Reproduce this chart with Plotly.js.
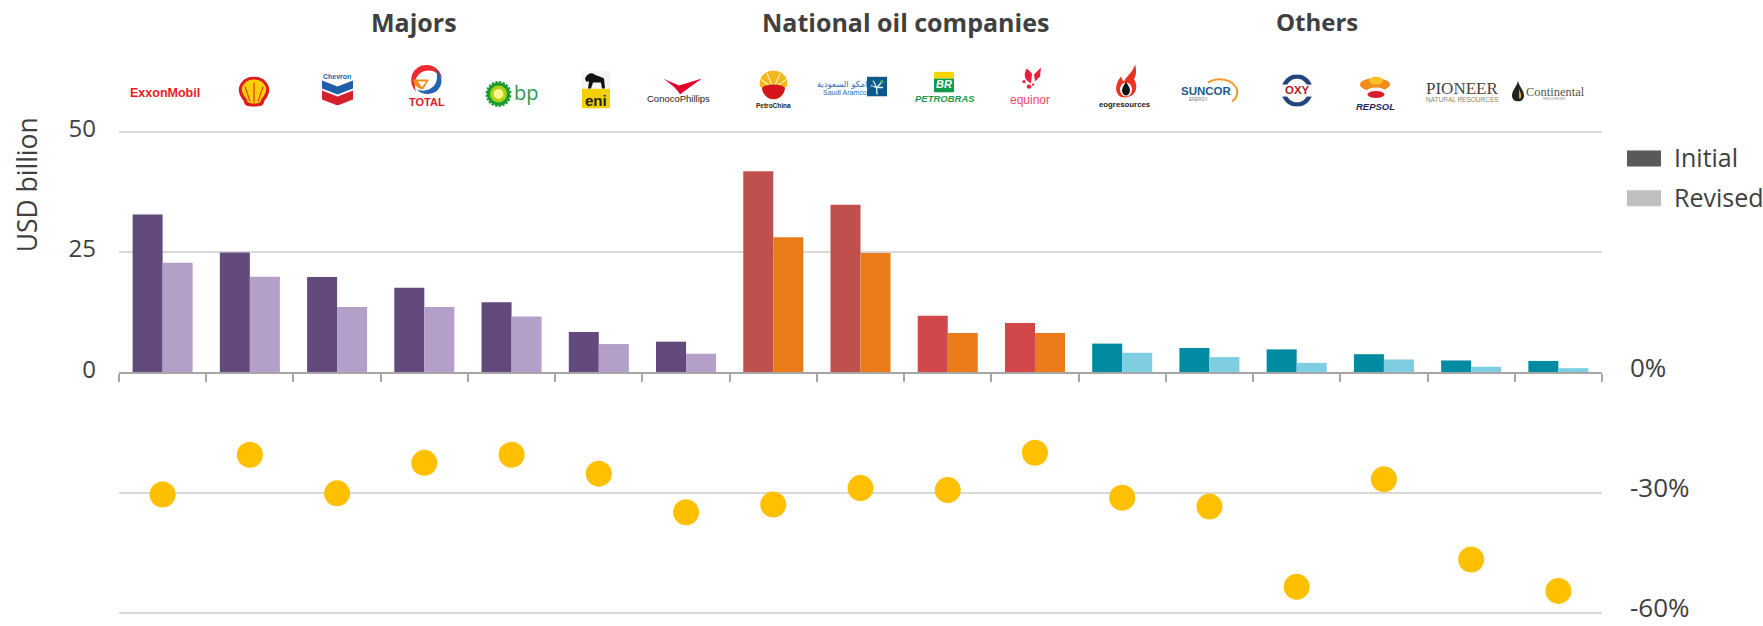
<!DOCTYPE html>
<html><head><meta charset="utf-8">
<script src="https://cdn.plot.ly/plotly-3.0.1.min.js"></script>
<style>html,body{margin:0;padding:0;background:#fff}#c{width:1763px;height:626px}</style>
</head><body><div id="c"></div>
<script>
const companies=['ExxonMobil','Shell','Chevron','Total','BP','Eni','ConocoPhillips','PetroChina','Saudi Aramco','Petrobras','Equinor','EOG Resources','Suncor','Oxy','Repsol','Pioneer','Continental'];
const initial=[32.8,24.9,19.8,17.6,14.6,8.4,6.4,41.8,34.8,11.8,10.3,6.0,5.1,4.8,3.8,2.5,2.4];
const revised=[22.8,19.9,13.6,13.6,11.6,5.9,3.9,28.1,24.8,8.2,8.2,4.1,3.2,2.0,2.7,1.2,0.9];
const change=[-30.4,-20.5,-30.1,-22.5,-20.5,-25.2,-34.8,-32.9,-28.8,-29.3,-20,-31.2,-33.4,-53.4,-26.6,-46.6,-54.4];
const initialColors=['#634a7c','#634a7c','#634a7c','#634a7c','#634a7c','#634a7c','#634a7c','#c0504d','#c0504d','#d2474a','#d2474a','#008ba3','#008ba3','#008ba3','#008ba3','#008ba3','#008ba3'];
const revisedColors=['#b49fc9','#b49fc9','#b49fc9','#b49fc9','#b49fc9','#b49fc9','#b49fc9','#ea7b1a','#ea7b1a','#ea7b1a','#ea7b1a','#7fcde1','#7fcde1','#7fcde1','#7fcde1','#7fcde1','#7fcde1'];
const groupTitles=['Majors','National oil companies','Others'];
const legendNames=['Initial','Revised'];
const legendColors=['#595959','#bfbfbf'];

const L=119,T=121.5,W=1483,H=502;
const px=x=>(x-L)/W, py=y=>(T+H-y)/H;
const FONT='"Open Sans", sans-serif', INK='#404040';

function img(x,y,w,h,inner){
  const svg=`<svg xmlns="http://www.w3.org/2000/svg" width="${w*4}" height="${h*4}" viewBox="0 0 ${w} ${h}">${inner}</svg>`;
  return {source:'data:image/svg+xml;charset=utf-8,'+encodeURIComponent(svg),xref:'paper',yref:'paper',x:px(x),y:py(y),sizex:w/W,sizey:h/H,sizing:'stretch',xanchor:'left',yanchor:'top',layer:'above'};
}
const images=[
 img(238,76,32,31,'<path d="M16 30C9 30 6 29 6 25C2 20 0 15 1 11C3 4 9 0 16 0C23 0 29 4 31 11C32 15 30 20 26 25C26 29 23 30 16 30Z" fill="#dd1d21"/><path d="M16 27C11 27 9 26 9 23C5 18 3 14 4 11C6 6 10 3 16 3C22 3 26 6 28 11C29 14 27 18 23 23C23 26 21 27 16 27Z" fill="#fbce07"/><path d="M16 26V6M12 25L7 10M20 25L25 10" stroke="#dd1d21" stroke-width="1"/>'),
 img(322,70,31,35,'<path d="M0 10L15.5 16L31 10V18L15.5 24L0 18Z" fill="#1f5fa8"/><path d="M0 20L15.5 26L31 20V29L15.5 35L0 29Z" fill="#d5202e"/>'),
 img(408,63,38,33,'<path d="M8 28C0 20 2 6 14 2C24 -1 33 6 34 15C30 8 22 5 15 8C8 11 5 20 8 28Z" fill="#ee2a2e"/><path d="M27 5C35 12 36 22 28 28C22 32 13 31 9 26C16 29 25 26 28 19C30 14 29 9 27 5Z" fill="#2463b0"/><path d="M5 16H21L15 26C9 25 6 21 5 16Z" fill="#f28c1c"/><path d="M10 18H18L14 24Z" fill="#fff"/>'),
 img(485,80,27,27,'<circle cx="13.5" cy="13.5" r="13" fill="#1c9a32"/><circle cx="13.5" cy="13.5" r="13" fill="none" stroke="#fff" stroke-width="3" stroke-dasharray="1.5 2.5"/><circle cx="13.5" cy="13.5" r="8.5" fill="#a9d40f"/><circle cx="13.5" cy="13.5" r="5" fill="#fdf48c"/>'),
 img(582,70,28,38,'<rect y="18" width="28" height="20" fill="#f5d000"/><rect width="28" height="18" fill="#f4f4f4"/><path d="M3 8C5 3 9 2 11 3C13 5 19 6 22 8L23 18H20L19 12L11 12L9 18H6L7 11L4 11Z" fill="#111"/>'),
 img(660,78,44,16,'<path d="M3 0L19 7L42 0C35 5 25 12 20 16C17 10 10 5 3 0Z" fill="#e4002b"/>'),
 img(759,70,29,29,'<path d="M1 16C-1 6 7 0 14.5 0C22 0 30 6 28 16L14.5 20Z" fill="#f5b51c"/><path d="M14.5 18L8 3M14.5 18L21 3M14.5 18L2 9M14.5 18L27 9" stroke="#fff3a8" stroke-width="1.2"/><path d="M3 17C8 13 21 13 26 17C26 24 20 29 14.5 29C9 29 3 24 3 17Z" fill="#d4161c"/>'),
 img(867,76,20,20,'<rect width="20" height="20" fill="#0a5a8c"/><path d="M10 18C10 12 9 8 6 4M10 11L15 5M10 11L4 9M10 11L16 11" stroke="#dff2ee" stroke-width="1.4"/><circle cx="15" cy="5" r="1.6" fill="#48b65c"/>'),
 img(931,71,26,21,'<rect x="3" y="0" width="20" height="7" fill="#f9d500"/><rect x="3" y="7" width="20" height="14" fill="#119a4a"/>'),
 img(1018,66,26,26,'<path d="M9 2L14 7L13 17L9 14C6 11 6 6 9 2Z" fill="#e8203c"/><path d="M16 8L23 1L22 10L17 15Z" fill="#e8203c"/><circle cx="6" cy="15" r="1.6" fill="#e8203c"/><circle cx="11" cy="20" r="2.2" fill="#e8203c"/><circle cx="15" cy="18" r="1.2" fill="#e8203c"/>'),
 img(1114,64,24,36,'<path d="M21 0C23 6 22 11 20 15C23 19 23 25 20 29C17 33 7 35 4 30C0 24 3 17 7 12C8 15 9 16 10 17C12 12 19 8 21 0Z" fill="#ea3323"/><ellipse cx="12" cy="25" rx="6" ry="7" fill="#fff"/><path d="M12 17C14 21 16 23 16 26C16 29 14 31 12 31C10 31 8 29 8 26C8 23 10 21 12 17Z" fill="#111"/>'),
 img(1205,76,34,26,'<path d="M3 6C12 0 28 2 32 13C33 18 31 22 27 25" fill="none" stroke="#f29a2e" stroke-width="2"/>'),
 img(1281,74,32,32,'<ellipse cx="16" cy="16" rx="13.5" ry="14" fill="none" stroke="#23457e" stroke-width="4.5"/><rect x="0" y="10" width="32" height="12" fill="#fff"/>'),
 img(1356,76,38,22,'<ellipse cx="19" cy="8" rx="15" ry="6.5" fill="#f28c1c"/><ellipse cx="20" cy="4" rx="7" ry="4" fill="#fbc12a"/><ellipse cx="20" cy="14" rx="9" ry="3" fill="#f4f4f4"/><ellipse cx="20" cy="18" rx="8.5" ry="3.5" fill="#d81e2c"/>'),
 img(1512,80,12,21,'<path d="M6 0C7 6 12 10 12 15C12 19 9 21 6 21C3 21 0 19 0 15C0 10 5 6 6 0Z" fill="#222"/><path d="M7 8C8 12 10 14 9 17C8 19 7 18 7 17Z" fill="#e0a92b"/>')
];
const S=(t,x,y,size,color,opt={})=>Object.assign({text:t,xref:'paper',yref:'paper',x:px(x),y:py(y),xanchor:'center',yanchor:'middle',showarrow:false,font:{family:opt.family||'"Liberation Sans", sans-serif',size,color}},opt.extra||{});
const annotations=[
 S('<b>'+groupTitles[0]+'</b>',414,21,25,INK,{family:FONT}),
 S('<b>'+groupTitles[1]+'</b>',905,21,25,INK,{family:FONT}),
 S('<b>'+groupTitles[2]+'</b>',1317,21,24,INK,{family:FONT}),
 S('USD billion',27,185,26.5,INK,{family:FONT,extra:{textangle:-90}}),
 S(legendNames[0],0,157,25,INK,{family:FONT,extra:{x:px(1672),xanchor:'left'}}),
 S(legendNames[1],0,197,25,INK,{family:FONT,extra:{x:px(1672),xanchor:'left'}}),
 S('<b>ExxonMobil</b>',165,92,12.5,'#ee1c25'),
 S('<b>Chevron</b>',337,76,7,'#1f5fa8'),
 S('<b>TOTAL</b>',427,101,11,'#d9202c'),
 S('bp',526,92,20,'#2d9a4c',{family:FONT}),
 S('<b>eni</b>',596,100,15,'#222'),
 S('ConocoPhillips',678,98,9.5,'#222'),
 S('<b>PetroChina</b>',773,105,6.5,'#222'),
 S('أرامكو السعودية',845,83,8.5,'#2b6cb0',{family:'"DejaVu Sans", sans-serif'}),
 S('Saudi Aramco',845,92,7,'#2b6cb0'),
 S('<b><i>BR</i></b>',944,83,11,'#fff'),
 S('<b><i>PETROBRAS</i></b>',945,98,9.5,'#1f9a4f'),
 S('equinor',1030,99,12,'#f0486a'),
 S('<b>eogresources</b>',1125,104,7.8,'#222'),
 S('<b>SUNCOR</b>',1206,90,11.5,'#1d5a8c'),
 S('ENERGY',1198,99,4.5,'#777'),
 S('<b>OXY</b>',1297,89,11.5,'#b3202c'),
 S('<b><i>REPSOL</i></b>',1375,106,9.5,'#1d2a5c'),
 S('PIONEER',1462,88,17,'#444',{family:'"Liberation Serif", serif'}),
 S('NATURAL RESOURCES',1462,99,6.5,'#8a8a6a'),
 S('Continental',1555,91,12.5,'#555',{family:'"Liberation Serif", serif'}),
 S('RESOURCES',1554,98.5,3.5,'#888')
];
const shapes=[
 {type:'rect',xref:'paper',yref:'paper',x0:px(1627),x1:px(1661),y0:py(150),y1:py(166),fillcolor:legendColors[0],line:{width:0}},
 {type:'rect',xref:'paper',yref:'paper',x0:px(1627),x1:px(1661),y0:py(190),y1:py(206),fillcolor:legendColors[1],line:{width:0}}
];
const data=[
 {type:'bar',name:legendNames[0],x:companies,y:initial,marker:{color:initialColors},showlegend:false},
 {type:'bar',name:legendNames[1],x:companies,y:revised,marker:{color:revisedColors},showlegend:false},
 {type:'scatter',mode:'markers',name:'Change',x:companies,y:change,yaxis:'y2',marker:{color:'#ffc000',size:26},cliponaxis:false,showlegend:false}
];
const layout={
 width:1763,height:626,paper_bgcolor:'#fff',plot_bgcolor:'#fff',showlegend:false,
 margin:{l:L,r:1763-L-W,t:T,b:626-T-H,pad:0,autoexpand:false},
 barmode:'group',bargap:0.312,bargroupgap:0,
 font:{family:FONT,size:24,color:INK},
 xaxis:{type:'category',categoryorder:'array',categoryarray:companies,range:[-0.5,16.5],anchor:'free',position:0.5,
   showticklabels:false,ticks:'outside',ticklen:8,tickwidth:2,tickcolor:'#a6a6a6',tickson:'boundaries',
   showline:true,linecolor:'#a6a6a6',linewidth:2,showgrid:false,zeroline:false},
 yaxis:{range:[-52,52],tickvals:[0,25,50],ticktext:['0','25','50'],gridcolor:'#d9d9d9',gridwidth:2,zeroline:false,ticks:'',showline:false,ticklabelstandoff:22,ticklabelshift:-3,ticklabeloverflow:'allow',tickfont:{size:24,color:INK}},
 yaxis2:{overlaying:'y',side:'right',range:[-62.4,62.4],tickvals:[0,-30,-60],ticktext:['0%','-30%','-60%'],gridcolor:'#d9d9d9',gridwidth:2,zeroline:false,ticks:'',showline:false,ticklabelstandoff:27,ticklabelshift:-5,ticklabeloverflow:'allow',tickfont:{size:26,color:INK}},
 images,annotations,shapes,hovermode:false
};
Plotly.newPlot('c',data,layout,{displayModeBar:false,staticPlot:true});
</script></body></html>
